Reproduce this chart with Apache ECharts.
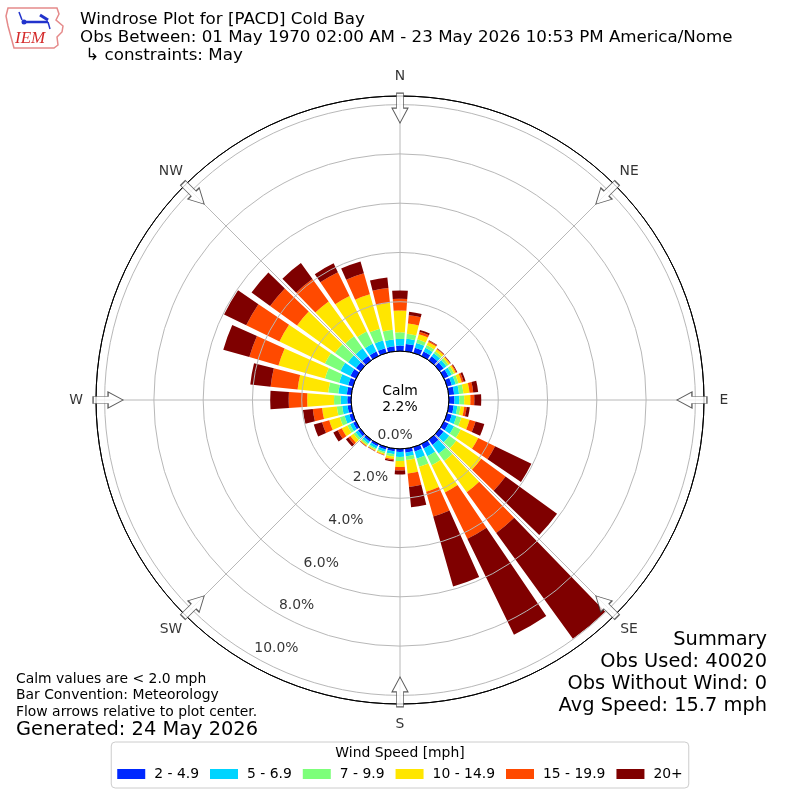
<!DOCTYPE html>
<html><head><meta charset="utf-8">
<script src="https://cdn.jsdelivr.net/npm/echarts@6/dist/echarts.min.js"></script>
<style>html,body{margin:0;padding:0;background:#fff}#c{width:800px;height:800px}</style>
</head><body><div id="c"></div><script>
// ---- data ----
const directions = [0,10,20,30,40,50,60,70,80,90,100,110,120,130,140,150,160,170,180,190,200,210,220,230,240,250,260,270,280,290,300,310,320,330,340,350];
const speedBins = ['2 - 4.9','5 - 6.9','7 - 9.9','10 - 14.9','15 - 19.9','20+'];
const binColors = ['#0028ff','#00d4ff','#7dff7a','#ffe600','#ff4a00','#7f0000'];
// percent of observations per direction (0..350 by 10 deg) for each speed bin
const pct2to5   = [.22,.30,.22,.20,.20,.20,.20,.20,.22,.22,.20,.20,.20,.20,.26,.20,.18,.16,.12,.10,.10,.10,.10,.12,.13,.15,.15,.15,.18,.20,.25,.22,.22,.20,.20,.20];
const pct5to7   = [.27,.21,.20,.17,.15,.14,.15,.16,.20,.20,.15,.20,.25,.28,.43,.35,.30,.15,.20,.12,.10,.10,.10,.12,.14,.20,.22,.27,.35,.38,.45,.40,.38,.35,.32,.28];
const pct7to10  = [.27,.20,.15,.12,.10,.10,.10,.12,.18,.20,.13,.20,.30,.35,.38,.40,.35,.15,.17,.10,.07,.06,.07,.10,.12,.20,.22,.27,.41,.60,.70,.65,.60,.55,.50,.40];
const pct10to15 = [.88,.42,.22,.14,.10,.08,.08,.14,.25,.25,.15,.35,.79,1.25,1.56,1.23,1.05,.55,.24,.10,.05,.04,.05,.16,.25,.45,.60,1.09,1.25,1.96,2.05,1.90,1.75,1.60,1.45,1.10];
const pct15to20 = [.48,.34,.10,.05,.03,.02,.04,.08,.15,.16,.10,.25,.76,1.22,2.04,2.09,1.05,.55,.14,.05,.02,.02,.02,.10,.18,.30,.38,.75,1.10,1.23,1.50,1.35,1.12,1.08,.89,.60];
const pct20up   = [.34,.14,.08,.03,.02,.02,.03,.08,.20,.28,.13,.37,1.64,2.58,5.31,4.33,2.95,.83,.16,.05,.01,.01,.01,.12,.20,.35,.40,.75,.83,1.10,1.00,.93,.80,.40,.50,.43];
const binData = [pct2to5,pct5to7,pct7to10,pct10to15,pct15to20,pct20up];
const radialTicks = [0,2,4,6,8,10];
const compassDirs = [0,45,90,135,180,225,270,315];
const compassNames = ['N','NE','E','SE','S','SW','W','NW'];
const calmPct = 2.2;
const titleLines = ['Windrose Plot for [PACD] Cold Bay','Obs Between: 01 May 1970 02:00 AM - 23 May 2026 10:53 PM America/Nome',' \u21b3 constraints: May'];
const noteLines = ['Calm values are < 2.0 mph','Bar Convention: Meteorology','Flow arrows relative to plot center.'];
const generatedText = 'Generated: 24 May 2026';
const summaryLines = ['Summary','Obs Used: 40020','Obs Without Wind: 0','Avg Speed: 15.7 mph'];

// ---- layout constants ----
const RMAX = 10.35, ARROW_R = 9.86, COMPASS_R = 11.16, LABEL_ANGLE = 210;
const FF = '"DejaVu Sans", sans-serif';
const grid = '#b8b8b8';

const chart = echarts.init(document.getElementById('c'), null, {renderer:'canvas'});

function txt(x, y, s, size, align, extra) {
  return Object.assign({type:'text', x:x, y:y, z:10, silent:true,
    style:{text:s, font:size+'px '+FF, fill:'#000', align:align||'left', textAlign:align||'left', verticalAlign:'middle', textVerticalAlign:'middle'}}, extra||{});
}
const graphics = [];
titleLines.forEach((s,i)=>graphics.push(txt(80, 20+i*18, s, 16.7)));
noteLines.forEach((s,i)=>graphics.push(txt(16, 679+i*16.5, s, 13.9)));
graphics.push(txt(16, 730, generatedText, 19.4));
summaryLines.forEach((s,i)=>graphics.push(txt(767, 640+i*22, s, 19.4, 'right')));
graphics.push(txt(400, 391, 'Calm', 13.9, 'center'));
graphics.push(txt(400, 407, calmPct.toFixed(1)+'%', 13.9, 'center'));
graphics.push(txt(400, 753, 'Wind Speed [mph]', 13.9, 'center'));
// IEM logo
graphics.push({type:'polygon', z:10, silent:true, shape:{points:[[8,8],[57,8],[59,14],[56,20],[63,26],[62,32],[57,37],[58,45],[54,48],[14,48],[11,37],[8,26],[6,16]]}, style:{fill:'#fff', stroke:'#e58a8a', lineWidth:1.5}});
graphics.push({type:'line', z:11, silent:true, shape:{x1:24,y1:22,x2:48,y2:22}, style:{stroke:'#2233cc', lineWidth:2.5}});
graphics.push({type:'line', z:11, silent:true, shape:{x1:40,y1:15,x2:48,y2:20}, style:{stroke:'#2233cc', lineWidth:3}});
graphics.push({type:'line', z:11, silent:true, shape:{x1:19,y1:12,x2:22,y2:20}, style:{stroke:'#2233cc', lineWidth:1.5}});
graphics.push({type:'circle', z:11, silent:true, shape:{cx:24,cy:22,r:2.5}, style:{fill:'#2233cc'}});
graphics.push({type:'line', z:11, silent:true, shape:{x1:48,y1:22,x2:50,y2:29}, style:{stroke:'#2233cc', lineWidth:1.5}});
graphics.push({type:'text', z:11, silent:true, x:15, y:39, style:{text:'IEM', font:'italic 17px "Liberation Serif", serif', fill:'#d42a2a', verticalAlign:'middle', textVerticalAlign:'middle'}});

const barSeries = speedBins.map((name,i)=>({
  type:'bar', name:name, coordinateSystem:'polar', polarIndex:1, stack:'wind',
  data: binData[i], itemStyle:{color:binColors[i]}, barCategoryGap:'18%', z:2, silent:true
}));

const ringColors = ['#000', grid, grid, grid, grid, grid, '#000'];

chart.setOption({
  animation:false,
  backgroundColor:'#fff',
  polar:[
    {center:['50%','50%'], radius:[49,304]},
    {center:['50%','50%'], radius:[49,304]}
  ],
  angleAxis:[
    {polarIndex:0, type:'value', min:0, max:360, interval:45, startAngle:90, clockwise:true, z:0,
     axisLine:{show:true, lineStyle:{color:'#000', width:1}}, axisTick:{show:false}, axisLabel:{show:false},
     splitLine:{show:true, lineStyle:{color:grid, width:1}}},
    {polarIndex:1, type:'category', data:directions.map(String), startAngle:95, clockwise:true, boundaryGap:true,
     axisLine:{show:false}, axisTick:{show:false}, axisLabel:{show:false}, splitLine:{show:false}}
  ],
  radiusAxis:[
    {polarIndex:0, type:'value', min:0, max:RMAX, interval:2, z:3,
     axisLine:{show:false}, axisTick:{show:false}, axisLabel:{show:false},
     splitLine:{show:true, lineStyle:{color:ringColors, width:1}}},
    {polarIndex:1, type:'value', min:0, max:RMAX, show:false,
     axisLine:{show:false}, axisTick:{show:false}, axisLabel:{show:false}, splitLine:{show:false}}
  ],
  legend:{data:speedBins, top:742, left:'center', orient:'horizontal', icon:'rect', itemWidth:28, itemHeight:10, itemGap:11,
    padding:[25,6,7,6], borderColor:'#cccccc', borderWidth:1, borderRadius:4, selectedMode:false,
    textStyle:{fontSize:13.9, fontFamily:FF, color:'#000', padding:[0,0,0,4]}},
  graphic:graphics,
  series: barSeries.concat([
    {type:'scatter', coordinateSystem:'polar', polarIndex:0, z:6, clip:false, silent:true,
     symbol:'path://M4.5,0 L11.5,0 L11.5,15 L16,15 L8,30 L0,15 L4.5,15 Z', symbolSize:[16,30],
     itemStyle:{color:'#fff', borderColor:'#333', borderWidth:1},
     data: compassDirs.map(d=>({value:[ARROW_R,d], symbolRotate:-d}))},
    {type:'scatter', coordinateSystem:'polar', polarIndex:0, z:6, clip:false, silent:true,
     symbol:'circle', symbolSize:1, itemStyle:{color:'rgba(0,0,0,0)'},
     label:{show:true, position:'inside', formatter:'{b}', color:'#000', fontSize:13.9, fontFamily:FF},
     data: compassDirs.map((d,i)=>({name:compassNames[i], value:[COMPASS_R,d]}))},
    {type:'scatter', coordinateSystem:'polar', polarIndex:0, z:6, clip:false, silent:true,
     symbol:'circle', symbolSize:1, itemStyle:{color:'rgba(0,0,0,0)'},
     label:{show:true, position:'right', distance:0, offset:[1.5,-7.5], color:'#000', fontSize:13.9, fontFamily:FF,
       formatter:p=>p.value[0].toFixed(1)+'%'},
     data: radialTicks.map(v=>({value:[v, LABEL_ANGLE]}))}
  ])
});
</script></body></html>
